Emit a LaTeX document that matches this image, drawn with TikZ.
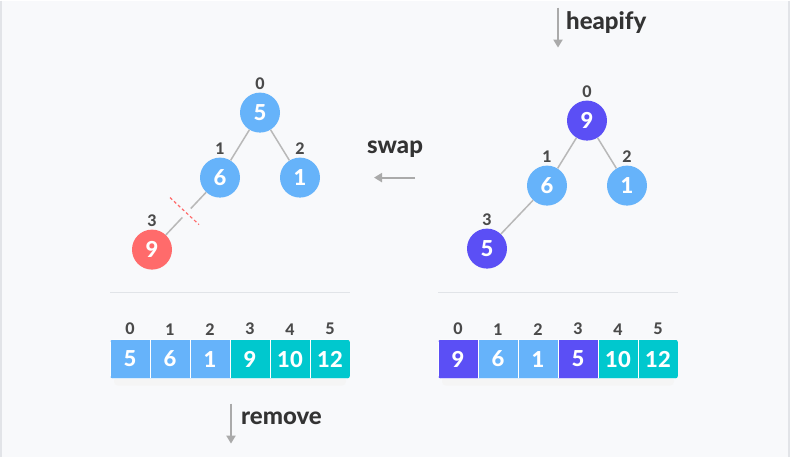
\documentclass[tikz,border=0pt]{standalone}
\usepackage{fontspec}
\setmainfont{Lato}[BoldFont={Lato Heavy}]
\usetikzlibrary{positioning,arrows.meta}

\definecolor{bgcol}{HTML}{F8F9FB}
\definecolor{framegrey}{HTML}{E2E4E8}
\definecolor{keyblue}{HTML}{66B3FA}
\definecolor{keyteal}{HTML}{00C8CE}
\definecolor{keypurple}{HTML}{5B4FF5}
\definecolor{keyred}{HTML}{FF6B6B}
\definecolor{labgrey}{HTML}{4A4A4A}
\definecolor{textdark}{HTML}{333333}
\definecolor{edgegrey}{HTML}{B8B8B8}
\definecolor{arrowgrey}{HTML}{AAAAAA}
\definecolor{rulegrey}{HTML}{E1E4E8}

\begin{document}
\begin{tikzpicture}[x=1pt, y=-1pt,
    key/.style={circle, fill=keyblue, text=white, minimum size=40pt, inner sep=0pt,
                font=\bfseries\fontsize{22}{22}\selectfont},
    maxkey/.style={key, fill=keypurple},
    cutkey/.style={key, fill=keyred},
    idx/.style={text=labgrey, inner sep=0pt, font=\bfseries\fontsize{16}{16}\selectfont},
    cell/.style={rectangle, minimum width=40pt, minimum height=39pt, inner sep=0pt,
                 draw=white, line width=0.7pt, text=white,
                 font=\bfseries\fontsize{22}{22}\selectfont},
    word/.style={text=textdark, inner sep=0pt, font=\bfseries\fontsize{24}{24}\selectfont},
    link/.style={draw=edgegrey, line width=1.5pt},
    flow/.style={draw=arrowgrey, line width=2.2pt, -{Triangle[length=8pt,width=9pt]}}]

    % Background
    \fill[bgcol] (0,0) rectangle (790,456);
    \draw[framegrey, line width=1.2pt] (1,0) -- (1,456);
    \draw[framegrey, line width=1.2pt] (789,0) -- (789,456);
    \useasboundingbox (0,0) rectangle (790,456);

    % Left tree
    \node[key] (l0) at (260,112) {5};
    \node[key] (l1) at (220,177) {6};
    \node[key] (l2) at (300,177) {1};
    \node[cutkey] (l3) at (152,249) {9};
    \foreach \n/\i in {l0/0, l1/1, l2/2, l3/3}
        \node[idx, above=3pt of \n] {\i};
    \draw[link] (l0) -- (l1);
    \draw[link] (l0) -- (l2);
    \draw[link] (l1) -- (l3);

    % Cut mark
    \coordinate (c1) at (170,197);
    \coordinate (c2) at (199,224);
    \draw[bgcol, line width=12pt] (c1) -- (c2);
    \draw[keyred, line width=1.2pt, dash pattern=on 3pt off 2.5pt] (c1) -- (c2);

    % Right tree
    \node[maxkey] (r0) at (587,120) {9};
    \node[key] (r1) at (547,185) {6};
    \node[key] (r2) at (627,185) {1};
    \node[maxkey] (r3) at (487,248) {5};
    \foreach \n/\i in {r0/0, r1/1, r2/2, r3/3}
        \node[idx, above=3pt of \n] {\i};
    \draw[link] (r0) -- (r1);
    \draw[link] (r0) -- (r2);
    \draw[link] (r1) -- (r3);

    % Steps
    \coordinate (h1) at (558,7);
    \coordinate (h2) at (558,47);
    \draw[flow] (h1) -- (h2);
    \node[word, anchor=west] (heapify) at (566,22) {heapify};

    \coordinate (s1) at (415,177);
    \coordinate (s2) at (374,177);
    \draw[flow] (s1) -- (s2);
    \node[word] (swap) at (395,149) {swap};

    \coordinate (m1) at (231,403);
    \coordinate (m2) at (231,443);
    \draw[flow] (m1) -- (m2);
    \node[word, anchor=west] (remove) at (241,418) {remove};

    % Rules
    \draw[rulegrey, line width=1pt] (110,292) -- (350,292);
    \draw[rulegrey, line width=1pt] (438,292) -- (678,292);

    % Arrays
    \fill[black!4, rounded corners=4pt] (114,376) rectangle (346,385);
    \fill[black!4, rounded corners=4pt] (442,376) rectangle (674,385);
    \begin{scope}
        \clip[rounded corners=3pt] (110,339) rectangle (350,378);
        \foreach \v/\c [count=\i from 0] in {5/keyblue, 6/keyblue, 1/keyblue, 9/keyteal, 10/keyteal, 12/keyteal}
            \node[cell, fill=\c] (a\i) at (130+40*\i,358.5) {\v};
    \end{scope}
    \begin{scope}
        \clip[rounded corners=3pt] (438,339) rectangle (678,378);
        \foreach \v/\c [count=\i from 0] in {9/keypurple, 6/keyblue, 1/keyblue, 5/keypurple, 10/keyteal, 12/keyteal}
            \node[cell, fill=\c] (b\i) at (458+40*\i,358.5) {\v};
    \end{scope}
    \foreach \i in {0,...,5} {
        \node[idx, above=4pt of a\i] {\i};
        \node[idx, above=4pt of b\i] {\i};
    }
\end{tikzpicture}
\end{document}
